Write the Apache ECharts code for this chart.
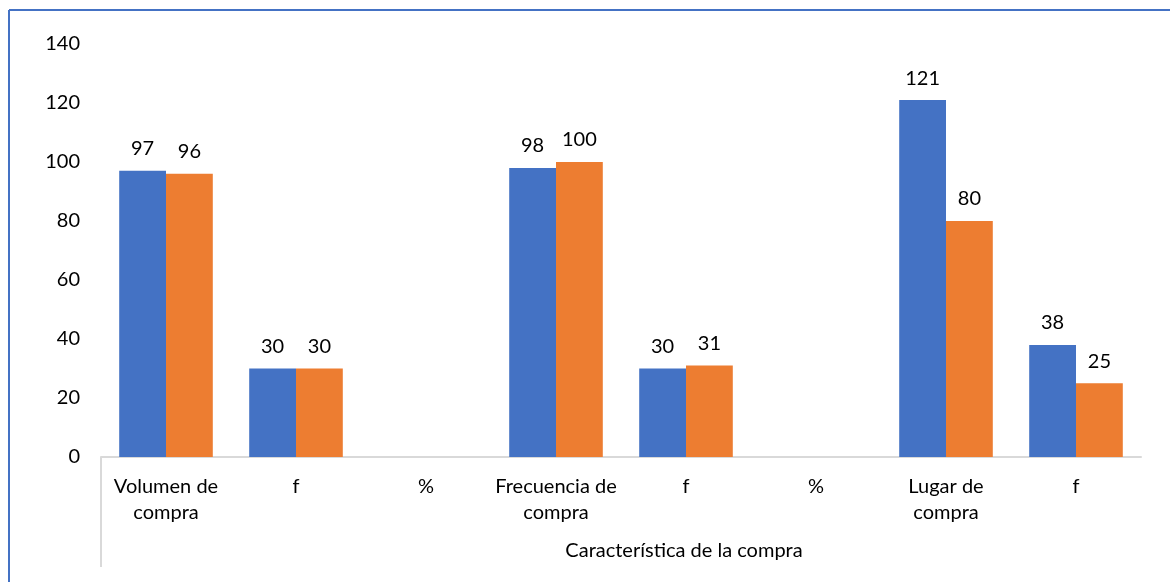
<!DOCTYPE html>
<html>
<head>
<meta charset="utf-8">
<script src="https://cdn.jsdelivr.net/npm/echarts@6/dist/echarts.min.js"></script>
<style>
  html, body { margin: 0; padding: 0; background: #ffffff; }
  #chart { width: 1170px; height: 582px; }
</style>
</head>
<body>
<div id="chart"></div>
<script>
// Características de la compra: two series per category
const categories = ['Volumen de\ncompra', 'f', '%', 'Frecuencia de\ncompra', 'f', '%', 'Lugar de\ncompra', 'f'];
const seriesA = [97, 30, null, 98, 30, null, 121, 38];
const seriesB = [96, 30, null, 100, 31, null, 80, 25];
const groupTitle = 'Característica de la compra';
const yTicks = { min: 0, max: 140, interval: 20 };

const FONT = 'Lato';
const BLUE = '#4472C4';
const ORANGE = '#ED7D31';

const chart = echarts.init(document.getElementById('chart'), null, { renderer: 'canvas' });

const labelStyle = {
  show: true,
  position: 'top',
  distance: 12,
  color: '#000000',
  fontFamily: FONT,
  fontSize: 20
};

chart.setOption({
  animation: false,
  backgroundColor: '#ffffff',
  grid: { left: 101, right: 29, top: 44, bottom: 125, containLabel: false },
  xAxis: {
    type: 'category',
    data: categories,
    axisLine: { show: true, lineStyle: { color: '#d9d9d9', width: 2 } },
    axisTick: { show: false },
    axisLabel: {
      interval: 0,
      margin: 17,
      color: '#000000',
      fontFamily: FONT,
      fontSize: 20,
      lineHeight: 26
    },
    splitLine: { show: false }
  },
  yAxis: {
    type: 'value',
    min: yTicks.min,
    max: yTicks.max,
    interval: yTicks.interval,
    axisLine: { show: false },
    axisTick: { show: false },
    splitLine: { show: false },
    axisLabel: {
      margin: 21,
      color: '#000000',
      fontFamily: FONT,
      fontSize: 20
    }
  },
  series: [
    {
      type: 'bar',
      data: seriesA,
      barGap: '0%',
      barCategoryGap: '28%',
      itemStyle: { color: BLUE },
      label: labelStyle
    },
    {
      type: 'bar',
      data: seriesB,
      itemStyle: { color: ORANGE },
      label: labelStyle
    }
  ],
  graphic: [
    // outer frame (top and left edges visible)
    { type: 'line', shape: { x1: 9, y1: 10, x2: 1170, y2: 10 }, style: { stroke: BLUE, lineWidth: 2 } },
    { type: 'line', shape: { x1: 9, y1: 10, x2: 9, y2: 582 }, style: { stroke: BLUE, lineWidth: 2 } },
    // group divider under the category axis
    { type: 'line', shape: { x1: 101, y1: 457, x2: 101, y2: 567 }, style: { stroke: '#d9d9d9', lineWidth: 2 } },
    {
      type: 'text',
      x: 684, y: 551,
      style: {
        text: groupTitle,
        fill: '#000000',
        font: '20px ' + FONT,
        textAlign: 'center',
        textVerticalAlign: 'middle'
      }
    }
  ]
});
</script>
</body>
</html>
